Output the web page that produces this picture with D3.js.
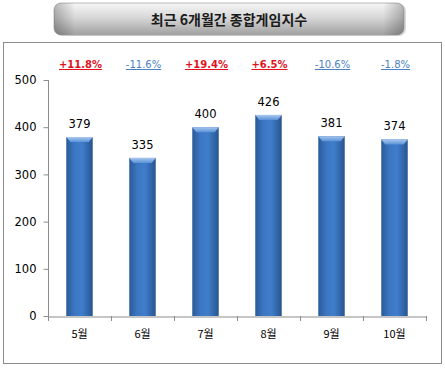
<!DOCTYPE html>
<html><head><meta charset="utf-8">
<script src="https://cdn.jsdelivr.net/npm/d3@7"></script>
<style>
html,body{margin:0;padding:0;background:#fff;}
svg{display:block;}
</style></head>
<body>
<script>
const categories = ["5월","6월","7월","8월","9월","10월"];
const values = [379,335,400,426,381,374];
const changes = ["+11.8%","-11.6%","+19.4%","+6.5%","-10.6%","-1.8%"];
const yTicks = [0,100,200,300,400,500];
const title = "최근 6개월간 종합게임지수";

const W=445,H=369;
const svg=d3.select("body").append("svg").attr("width",W).attr("height",H);
const defs=svg.append("defs");

const tg=defs.append("linearGradient").attr("id","tg").attr("x1",0).attr("y1",0).attr("x2",0).attr("y2",1);
tg.append("stop").attr("offset","0%").attr("stop-color","#f6f6f6");
tg.append("stop").attr("offset","45%").attr("stop-color","#d8d8d8");
tg.append("stop").attr("offset","100%").attr("stop-color","#a0a0a0");
const tgs=defs.append("linearGradient").attr("id","tgs").attr("x1",0).attr("y1",0).attr("x2",1).attr("y2",0);
tgs.append("stop").attr("offset","0%").attr("stop-color","#000").attr("stop-opacity",0.25);
tgs.append("stop").attr("offset","6%").attr("stop-color","#000").attr("stop-opacity",0);
tgs.append("stop").attr("offset","94%").attr("stop-color","#000").attr("stop-opacity",0);
tgs.append("stop").attr("offset","100%").attr("stop-color","#000").attr("stop-opacity",0.25);

const bg=defs.append("linearGradient").attr("id","bg").attr("x1",0).attr("y1",0).attr("x2",1).attr("y2",0);
bg.append("stop").attr("offset","0%").attr("stop-color","#2a5a98");
bg.append("stop").attr("offset","30%").attr("stop-color","#3b76c2");
bg.append("stop").attr("offset","60%").attr("stop-color","#3f7dcb");
bg.append("stop").attr("offset","100%").attr("stop-color","#28558f");
const bt=defs.append("linearGradient").attr("id","bt").attr("x1",0).attr("y1",0).attr("x2",0).attr("y2",1);
bt.append("stop").attr("offset","0%").attr("stop-color","#a9c8ee");
bt.append("stop").attr("offset","100%").attr("stop-color","#5a92d8");

svg.append("rect").attr("x",56).attr("y",4).attr("width",350).attr("height",32).attr("rx",7)
  .attr("fill","#b5b5b5").attr("opacity",0.5);
svg.append("rect").attr("x",54).attr("y",3).attr("width",350).attr("height",32).attr("rx",7)
  .attr("fill","url(#tg)").attr("stroke","#a8a8a8").attr("stroke-width",0.8);
svg.append("rect").attr("x",54).attr("y",3).attr("width",350).attr("height",32).attr("rx",7)
  .attr("fill","url(#tgs)");
svg.append("text").attr("x",229).attr("y",24.5).attr("text-anchor","middle")
  .attr("font-family","'Noto Sans CJK KR'").attr("font-weight","bold").attr("font-size",14)
  .attr("fill","#1a1a1a").text(title);

svg.append("rect").attr("x",3.5).attr("y",42.5).attr("width",438).attr("height",321)
  .attr("fill","#fff").attr("stroke","#8c8c8c").attr("stroke-width",1);

const x=d3.scaleBand().domain(categories).range([48,426]).paddingInner(0.58).paddingOuter(0.29);
const xb=d3.scaleBand().domain(categories).range([48,426]);
const y=d3.scaleLinear().domain([0,500]).range([316,80]);

const ya=svg.append("g").attr("transform","translate(48.5,0)")
  .call(d3.axisLeft(y).tickValues(yTicks).tickSize(5).tickPadding(7));
ya.select(".domain").attr("stroke","#8c8c8c").attr("d",`M0,${y(500)}V${y(0)}`);
ya.selectAll(".tick line").attr("stroke","#8c8c8c");
ya.selectAll(".tick text").attr("font-family","'DejaVu Sans'").attr("font-size",11.5).attr("fill","#000");

const xa=svg.append("g").attr("transform",`translate(0,${y(0)+0.5})`)
  .call(d3.axisBottom(xb).tickSize(0).tickPadding(14));
xa.select(".domain").attr("stroke","#8c8c8c");
xa.selectAll(".tick text").attr("font-family","'Noto Sans CJK KR'").attr("font-size",11).attr("fill","#000");
const bounds=categories.map(c=>xb(c)).concat([xb.range()[1]]);
svg.append("g").selectAll("line").data(bounds).join("line")
  .attr("x1",d=>Math.round(d)+0.5).attr("x2",d=>Math.round(d)+0.5)
  .attr("y1",y(0)).attr("y2",y(0)+5).attr("stroke","#8c8c8c");

const bars=svg.append("g").selectAll("g").data(values).join("g");
bars.append("rect").attr("x",(d,i)=>x(categories[i])).attr("y",d=>y(d))
  .attr("width",x.bandwidth()).attr("height",d=>y(0)-y(d)).attr("fill","url(#bg)");
bars.append("path").attr("d",(d,i)=>{
  const x0=x(categories[i]),w=x.bandwidth(),t=y(d);
  return `M${x0},${t}H${x0+w}L${x0+w-4},${t+5}H${x0+4}Z`;
}).attr("fill","url(#bt)");

svg.append("g").selectAll("text").data(values).join("text")
  .attr("x",(d,i)=>x(categories[i])+x.bandwidth()/2).attr("y",d=>y(d)-9)
  .attr("text-anchor","middle").attr("font-family","'DejaVu Sans'").attr("font-size",11.5)
  .attr("fill","#000").text(d=>d);

svg.append("g").selectAll("text").data(changes).join("text")
  .attr("x",(d,i)=>x(categories[i])+x.bandwidth()/2+1).attr("y",68)
  .attr("text-anchor","middle").attr("font-family","'DejaVu Sans'").attr("font-size",10)
  .attr("font-weight",d=>d[0]==="+"?"bold":"normal")
  .attr("text-decoration","underline")
  .attr("fill",d=>d[0]==="+"?"#e0141e":"#4a7fc0").text(d=>d);
</script>
</body></html>
